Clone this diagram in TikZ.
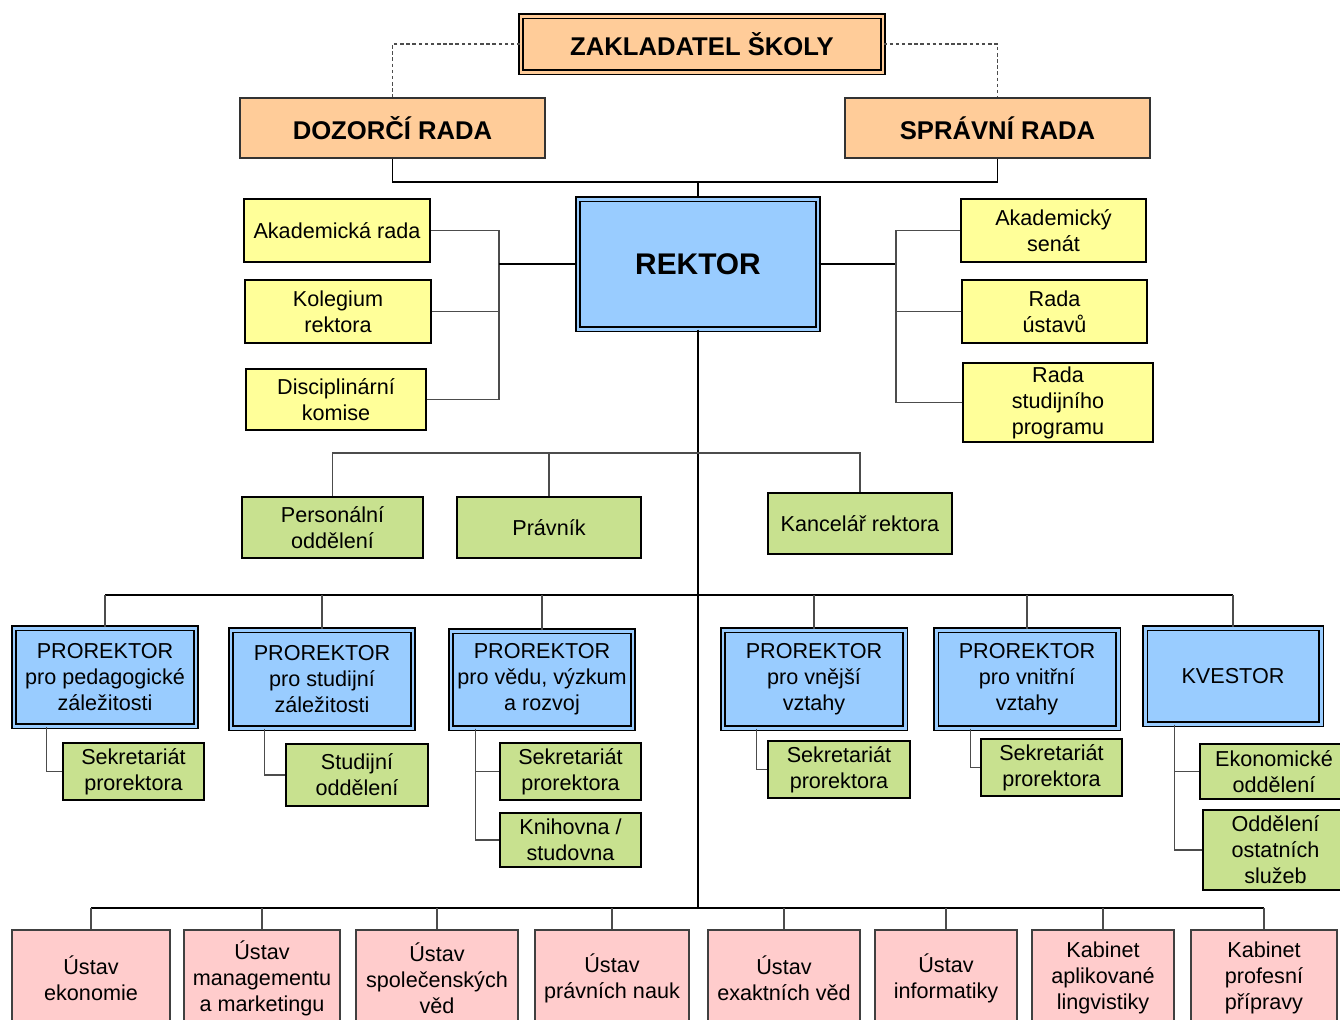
\documentclass[tikz,border=0pt]{standalone}
\usepackage{fontspec}
\setmainfont{Liberation Sans}
\definecolor{peach}{RGB}{255,204,153}
\definecolor{rektorblue}{RGB}{153,204,255}
\definecolor{radayellow}{RGB}{255,255,153}
\definecolor{odbgreen}{RGB}{200,225,143}
\definecolor{ustavpink}{RGB}{255,204,204}
\tikzset{
  boxsize/.style 2 args={minimum width=#1*0.02cm, minimum height=#2*0.02cm},
  base/.style={align=center, inner sep=0pt, font=\fontsize{12.3}{14.8}\selectfont},
  founder/.style={base, draw=black, line width=0.6pt, double=peach, double distance=1.7pt, fill=peach, font=\fontsize{14.6}{17}\selectfont\bfseries},
  board/.style={base, draw=black!80, line width=0.8pt, fill=peach, font=\fontsize{14.6}{17}\selectfont\bfseries},
  rektor/.style={base, draw=black, line width=0.6pt, double=rektorblue, double distance=1.7pt, fill=rektorblue, font=\fontsize{17}{20}\selectfont\bfseries},
  prorektor/.style={base, draw=black, line width=0.6pt, double=rektorblue, double distance=1.7pt, fill=rektorblue},
  council/.style={base, draw=black, line width=1.1pt, fill=radayellow},
  office/.style={base, draw=black, line width=1.1pt, fill=odbgreen},
  institute/.style={base, draw=black!75, line width=0.6pt, fill=ustavpink},
  link/.style={draw=black!70, line width=0.6pt},
  trunk/.style={draw=black, line width=0.9pt},
  dashlink/.style={draw=black!70, line width=0.6pt, dashed, dash pattern=on 2pt off 1.5pt}
}
\begin{document}
\begin{tikzpicture}[x=0.02cm, y=-0.02cm]
\useasboundingbox (0,0) rectangle (1340,1019);
\clip (0,0) rectangle (1340,1019);

% vedeni skoly
\node[founder, boxsize={362}{56}] (zakladatel) at (702,44) {ZAKLADATEL ŠKOLY};
\node[board, boxsize={305}{60}] (dozor) at (392.5,128) {DOZORČÍ RADA};
\node[board, boxsize={305}{60}] (sprava) at (997.5,128) {SPRÁVNÍ RADA};
\node[rektor, boxsize={240}{130}] (rektor) at (698,264) {REKTOR};

% poradni organy
\node[council, boxsize={186}{63}] (akrada) at (337,230.5) {Akademická rada};
\node[council, boxsize={186}{63}] (kolegium) at (338,311.5) {Kolegium\\rektora};
\node[council, boxsize={180}{61}] (diskom) at (336,399.5) {Disciplinární\\komise};
\node[council, boxsize={185}{63}] (senat) at (1053.5,230.5) {Akademický\\senát};
\node[council, boxsize={185}{63}] (radaust) at (1054.5,311.5) {Rada\\ústavů};
\node[council, boxsize={190}{79}] (radastud) at (1058,402.5) {Rada\\studijního\\programu};

% utvary rektora
\node[office, boxsize={181}{61}] (personal) at (332.5,527.5) {Personální\\oddělení};
\node[office, boxsize={184}{61}] (pravnik) at (549,527.5) {Právník};
\node[office, boxsize={184}{61}] (kancelar) at (860,523.5) {Kancelář rektora};

% prorektori a kvestor
\node[prorektor, boxsize={182}{98}] (prped) at (105,677) {PROREKTOR\\pro pedagogické\\záležitosti};
\node[prorektor, boxsize={182}{98}] (prstud) at (322,679) {PROREKTOR\\pro studijní\\záležitosti};
\node[prorektor, boxsize={182}{97}] (prveda) at (542,679.5) {PROREKTOR\\pro vědu, výzkum\\a rozvoj};
\node[prorektor, boxsize={182}{98}] (prvnej) at (814,679) {PROREKTOR\\pro vnější\\vztahy};
\node[prorektor, boxsize={182}{98}] (prvnit) at (1027,679) {PROREKTOR\\pro vnitřní\\vztahy};
\node[prorektor, boxsize={176}{96}] (kvestor) at (1233,676) {KVESTOR};

\node[office, boxsize={141}{57}] (sekped) at (133.5,771.5) {Sekretariát\\prorektora};
\node[office, boxsize={142}{62}] (studodd) at (357,775) {Studijní\\oddělení};
\node[office, boxsize={141}{57}] (sekveda) at (570.5,771.5) {Sekretariát\\prorektora};
\node[office, boxsize={141}{54}] (knihovna) at (570.5,840) {Knihovna /\\studovna};
\node[office, boxsize={142}{57}] (sekvnej) at (839,769.5) {Sekretariát\\prorektora};
\node[office, boxsize={141}{57}] (sekvnit) at (1051.5,767.5) {Sekretariát\\prorektora};
\node[office, boxsize={148}{55}] (ekonodd) at (1274,771.5) {Ekonomické\\oddělení};
\node[office, boxsize={145}{80}] (ostatni) at (1275.5,850) {Oddělení\\ostatních\\služeb};

% ustavy
\node[institute, boxsize={158}{96}] (uekon) at (91,978) {Ústav\\ekonomie};
\node[institute, boxsize={156}{96}] (umanag) at (262,978) {Ústav\\managementu\\a marketingu};
\node[institute, boxsize={162}{96}] (uspol) at (437,978) {Ústav\\společenských\\věd};
\node[institute, boxsize={154}{96}] (upravo) at (612,978) {Ústav\\právních nauk};
\node[institute, boxsize={152}{96}] (uexakt) at (784,978) {Ústav\\exaktních věd};
\node[institute, boxsize={142}{96}] (uinfo) at (946,978) {Ústav\\informatiky};
\node[institute, boxsize={142}{96}] (kling) at (1103,978) {Kabinet\\aplikované\\lingvistiky};
\node[institute, boxsize={146}{96}] (kprof) at (1264,978) {Kabinet\\profesní\\přípravy};

% spojnice
\coordinate (topbar) at (698,182);
\coordinate (lbus) at (499,264);
\coordinate (rbus) at (896,264);
\coordinate (obar) at (698,453);
\coordinate (pbar) at (698,595);
\coordinate (ubar) at (698,908);

\draw[dashlink] (zakladatel.west) -| (dozor.north);
\draw[dashlink] (zakladatel.east) -| (sprava.north);
\draw[trunk] (dozor.south) |- (topbar) -| (sprava.south);
\draw[trunk] (topbar) -- (rektor.north);

\draw[link] (akrada.east) -| (lbus);
\draw[link] (kolegium.east) -| (lbus);
\draw[link] (diskom.east) -| (lbus);
\draw[trunk] (lbus) -- (rektor.west);
\draw[trunk] (rektor.east) -- (rbus);
\draw[link] (rbus) |- (senat.west);
\draw[link] (rbus) |- (radaust.west);
\draw[link] (rbus) |- (radastud.west);

\draw[trunk] (rektor.south) -- (ubar);
\draw[link] (personal.north) |- (obar);
\draw[link] (pravnik.north) |- (obar);
\draw[link] (kancelar.north) |- (obar);

\draw[trunk] (prped.north |- pbar) -- (kvestor.north |- pbar);
\draw[link] (prped.north) -- (prped.north |- pbar);
\draw[link] (prstud.north) -- (prstud.north |- pbar);
\draw[link] (prveda.north) -- (prveda.north |- pbar);
\draw[link] (prvnej.north) -- (prvnej.north |- pbar);
\draw[link] (prvnit.north) -- (prvnit.north |- pbar);
\draw[link] (kvestor.north) -- (kvestor.north |- pbar);

\draw[link] ([xshift=33*0.02cm]prped.south west) |- (sekped.west);
\draw[link] ([xshift=34*0.02cm]prstud.south west) |- (studodd.west);
\draw[link] ([xshift=25*0.02cm]prveda.south west) |- (knihovna.west);
\draw[link] ([xshift=25*0.02cm]prveda.south west) |- (sekveda.west);
\draw[link] ([xshift=34*0.02cm]prvnej.south west) |- (sekvnej.west);
\draw[link] ([xshift=35*0.02cm]prvnit.south west) |- (sekvnit.west);
\draw[link] ([xshift=30*0.02cm]kvestor.south west) |- (ostatni.west);
\draw[link] ([xshift=30*0.02cm]kvestor.south west) |- (ekonodd.west);

\draw[trunk] (uekon.north |- ubar) -- (kprof.north |- ubar);
\draw[link] (uekon.north) -- (uekon.north |- ubar);
\draw[link] (umanag.north) -- (umanag.north |- ubar);
\draw[link] (uspol.north) -- (uspol.north |- ubar);
\draw[link] (upravo.north) -- (upravo.north |- ubar);
\draw[link] (uexakt.north) -- (uexakt.north |- ubar);
\draw[link] (uinfo.north) -- (uinfo.north |- ubar);
\draw[link] (kling.north) -- (kling.north |- ubar);
\draw[link] (kprof.north) -- (kprof.north |- ubar);
\end{tikzpicture}
\end{document}
